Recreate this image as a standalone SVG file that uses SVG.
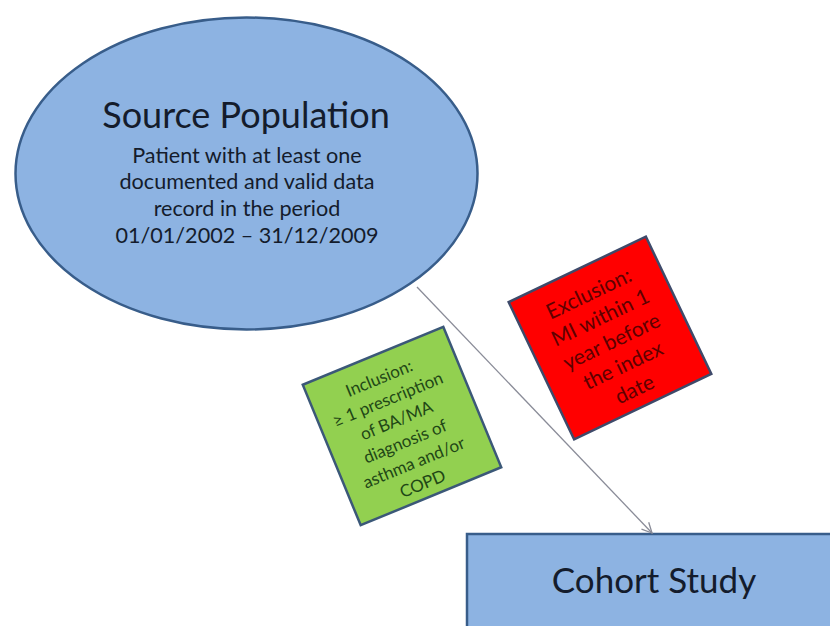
<svg xmlns="http://www.w3.org/2000/svg" width="830" height="626" viewBox="0 0 830 626">
  <style>
    text { font-family: Lato, "Open Sans", "Liberation Sans", sans-serif; text-anchor: middle; }
    .blue { fill: #8db3e2; stroke: #385d8a; stroke-width: 2.5; }
    .title { font-size: 36px; fill: #141c2c; }
    .ctitle { font-size: 35px; fill: #141c2c; }
    .sub { font-size: 21.6px; fill: #141c2c; }
    .inc { fill: #92d050; stroke: #3b5878; stroke-width: 2.5; }
    .inct { font-size: 17px; fill: #1f4716; }
    .exct { font-size: 21px; fill: #5e0000; }
    .exc { fill: #ff0000; stroke: #3e4a6a; stroke-width: 2.5; }
    .conn { stroke: #8a8c98; stroke-width: 1.3; fill: none; }
  </style>
  <defs>
    <marker id="arr" viewBox="0 0 12 12" refX="11" refY="6" markerWidth="12" markerHeight="12" markerUnits="userSpaceOnUse" orient="auto">
      <path d="M1,1 L11,6 L1,11" fill="none" stroke="#8a8c98" stroke-width="1.3"/>
    </marker>
  </defs>
  <rect width="830" height="626" fill="#ffffff"/>

  <g id="source-population">
    <ellipse class="blue" cx="246.5" cy="173.5" rx="231" ry="156"/>
    <text class="title" x="246" y="128">Source Population</text>
    <text class="sub" x="247" y="163">Patient with at least one</text>
    <text class="sub" x="247" y="189">documented and valid data</text>
    <text class="sub" x="247" y="216">record in the period</text>
    <text class="sub" x="247" y="243">01/01/2002  – 31/12/2009</text>
  </g>

  <g id="cohort-study">
    <rect class="blue" x="467" y="534" width="380" height="110"/>
    <text class="ctitle" x="654" y="593">Cohort Study</text>
  </g>

  <g id="inclusion" transform="translate(402,426) rotate(-22.4)">
    <rect class="inc" x="-76" y="-76" width="152" height="152"/>
    <text class="inct" x="-3" y="-47">Inclusion:</text>
    <text class="inct" x="-3" y="-24.2">≥ 1 prescription</text>
    <text class="inct" x="-3" y="-1.4">of BA/MA</text>
    <text class="inct" x="-3" y="21.4">diagnosis of</text>
    <text class="inct" x="-3" y="44.2">asthma and/or</text>
    <text class="inct" x="-3" y="67">COPD</text>
  </g>

  <g id="exclusion" transform="translate(610,338) rotate(-25.5)">
    <rect class="exc" x="-76" y="-76" width="152" height="152"/>
    <text class="exct" x="0" y="-42">Exclusion:</text>
    <text class="exct" x="0" y="-15.5">MI within 1</text>
    <text class="exct" x="0" y="11">year before</text>
    <text class="exct" x="0" y="37.5">the index</text>
    <text class="exct" x="0" y="64">date</text>
  </g>

  <g id="connectors">
    <line class="conn" x1="417" y1="287" x2="652" y2="533" marker-end="url(#arr)"/>
  </g>
</svg>
